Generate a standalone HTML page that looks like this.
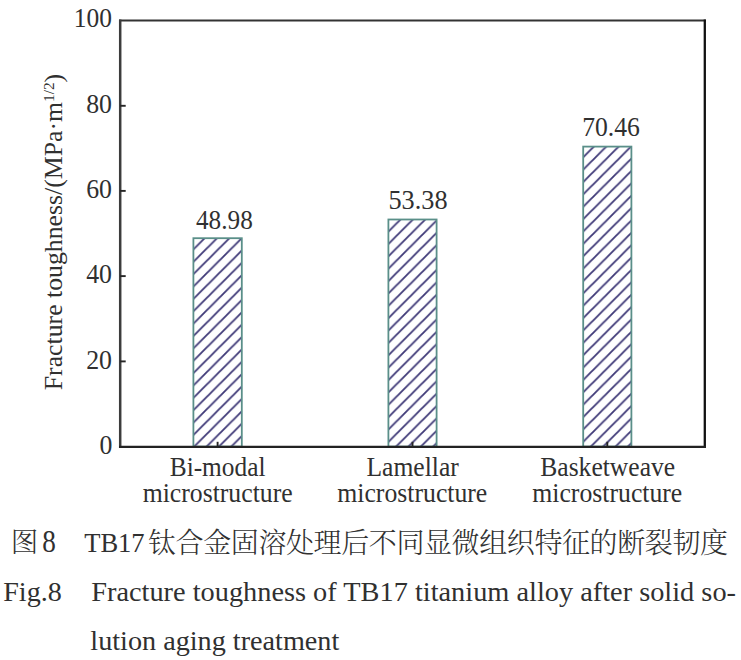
<!DOCTYPE html>
<html><head><meta charset="utf-8">
<style>
html,body{margin:0;padding:0;background:#fff;}
body{width:741px;height:660px;overflow:hidden;}
svg{display:block;}
.t{font-family:"Liberation Serif","Noto Serif CJK SC",serif;fill:#303030;}
.cj{font-family:"Liberation Serif","Noto Serif CJK SC",serif;fill:#303030;}
</style></head>
<body>
<svg width="741" height="660" viewBox="0 0 741 660">
<defs>
<pattern id="h1" patternUnits="userSpaceOnUse" x="9.9" y="0" width="12.37" height="12.37">
<path d="M-3,3 L3,-3 M0,12.37 L12.37,0 M9.37,15.37 L15.37,9.37" stroke="#403a78" stroke-width="1.85" fill="none"/>
</pattern>
<pattern id="h2" patternUnits="userSpaceOnUse" x="1.50" y="0" width="12.37" height="12.37">
<path d="M-3,3 L3,-3 M0,12.37 L12.37,0 M9.37,15.37 L15.37,9.37" stroke="#403a78" stroke-width="1.85" fill="none"/>
</pattern>
<pattern id="h3" patternUnits="userSpaceOnUse" x="10.67" y="0" width="12.37" height="12.37">
<path d="M-3,3 L3,-3 M0,12.37 L12.37,0 M9.37,15.37 L15.37,9.37" stroke="#403a78" stroke-width="1.85" fill="none"/>
</pattern>
</defs>
<rect width="741" height="660" fill="#fff"/>
<!-- bars -->
<rect x="193.4" y="238.2" width="48.4" height="208.4" fill="url(#h1)" stroke="#5a8f89" stroke-width="1.8"/>
<rect x="388.4" y="219.5" width="48.2" height="227.1" fill="url(#h2)" stroke="#5a8f89" stroke-width="1.8"/>
<rect x="583.2" y="146.6" width="48.2" height="300" fill="url(#h3)" stroke="#5a8f89" stroke-width="1.8"/>
<!-- axes -->
<line x1="119" y1="20.5" x2="705.9" y2="20.5" stroke="#333" stroke-width="2.1"/>
<line x1="120.2" y1="19.5" x2="120.2" y2="447.9" stroke="#3c3c3c" stroke-width="2.5"/>
<line x1="704.8" y1="19.5" x2="704.8" y2="447.9" stroke="#111" stroke-width="2.3"/>
<line x1="119" y1="446.8" x2="705.9" y2="446.8" stroke="#222" stroke-width="2.2"/>
<g stroke="#262626" stroke-width="1.9">
<line x1="120" y1="361.4" x2="125.7" y2="361.4"/>
<line x1="120" y1="276.1" x2="125.7" y2="276.1"/>
<line x1="120" y1="190.9" x2="125.7" y2="190.9"/>
<line x1="120" y1="105.8" x2="125.7" y2="105.8"/>
<line x1="217.6" y1="446.6" x2="217.6" y2="441.8"/>
<line x1="412.5" y1="446.6" x2="412.5" y2="441.8"/>
<line x1="607.3" y1="446.6" x2="607.3" y2="441.8"/>
</g>
<!-- tick labels -->
<g class="t" font-size="28.3" text-anchor="end" lengthAdjust="spacingAndGlyphs">
<text x="112.5" y="453.8" textLength="12.9" lengthAdjust="spacingAndGlyphs">0</text>
<text x="112" y="368.6" textLength="25.8" lengthAdjust="spacingAndGlyphs">20</text>
<text x="112" y="283.3" textLength="25.8" lengthAdjust="spacingAndGlyphs">40</text>
<text x="112" y="198.1" textLength="25.8" lengthAdjust="spacingAndGlyphs">60</text>
<text x="112" y="113" textLength="25.8" lengthAdjust="spacingAndGlyphs">80</text>
<text x="111.9" y="27.4" textLength="38.2" lengthAdjust="spacingAndGlyphs">100</text>
</g>
<!-- value labels -->
<g class="t" font-size="27" text-anchor="middle">
<text x="224.4" y="228.6" textLength="56.8" lengthAdjust="spacingAndGlyphs">48.98</text>
<text x="418" y="209" textLength="59.1" lengthAdjust="spacingAndGlyphs">53.38</text>
<text x="611" y="135.7" textLength="57.7" lengthAdjust="spacingAndGlyphs">70.46</text>
</g>
<!-- y label -->
<text class="t" font-size="26" transform="translate(61.8,390.2) rotate(-90)" textLength="316.4" lengthAdjust="spacingAndGlyphs">Fracture toughness/(MPa·m<tspan font-size="15.5" dy="-8.3">1/2</tspan><tspan dy="8.3">)</tspan></text>
<!-- x labels -->
<g class="t" font-size="26.4" text-anchor="middle">
<text x="217.6" y="475.9" textLength="95.7" lengthAdjust="spacingAndGlyphs">Bi-modal</text>
<text x="217.65" y="501.9" textLength="150" lengthAdjust="spacingAndGlyphs">microstructure</text>
<text x="412.65" y="475.9" textLength="92.3" lengthAdjust="spacingAndGlyphs">Lamellar</text>
<text x="412.3" y="501.9" textLength="150" lengthAdjust="spacingAndGlyphs">microstructure</text>
<text x="607.7" y="475.9" textLength="134.8" lengthAdjust="spacingAndGlyphs">Basketweave</text>
<text x="607.3" y="501.9" textLength="150" lengthAdjust="spacingAndGlyphs">microstructure</text>
</g>
<!-- caption -->
<text class="cj" x="10.7" y="551.8" font-size="27.5" font-weight="300">图</text>
<text class="t" x="42.2" y="551.7" font-size="30.5" textLength="13.6" lengthAdjust="spacingAndGlyphs">8</text>
<text class="t" x="84.2" y="551.5" font-size="28" textLength="60.4" lengthAdjust="spacingAndGlyphs">TB17</text>
<text class="cj" x="148" y="552.5" font-size="28" letter-spacing="-0.4" font-weight="300">钛合金固溶处理后不同显微组织特征的断裂韧度</text>
<text class="t" x="3.2" y="600.7" font-size="28" textLength="58.6" lengthAdjust="spacingAndGlyphs">Fig.8</text>
<text class="t" x="91.2" y="600.9" font-size="28" textLength="644.8" lengthAdjust="spacingAndGlyphs">Fracture toughness of TB17 titanium alloy after solid so-</text>
<text class="t" x="90.3" y="649.7" font-size="28" textLength="249" lengthAdjust="spacingAndGlyphs">lution aging treatment</text>
</svg>
</body></html>
